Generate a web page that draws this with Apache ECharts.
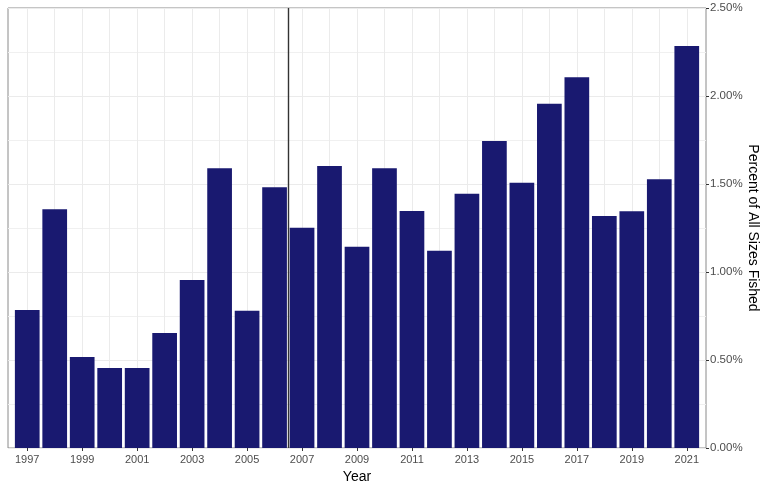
<!DOCTYPE html>
<html>
<head>
<meta charset="utf-8">
<script src="https://cdn.jsdelivr.net/npm/echarts@6/dist/echarts.min.js"></script>
<style>
html,body{margin:0;padding:0;background:#fff;}
#chart{width:771px;height:483px;}
</style>
</head>
<body>
<div id="chart"></div>
<script>
const years = [1997,1998,1999,2000,2001,2002,2003,2004,2005,2006,2007,2008,2009,2010,2011,2012,2013,2014,2015,2016,2017,2018,2019,2020,2021];
const percentFished = [0.784,1.356,0.517,0.455,0.455,0.653,0.955,1.589,0.780,1.481,1.251,1.602,1.144,1.589,1.347,1.121,1.445,1.744,1.507,1.956,2.106,1.318,1.345,1.527,2.284];
const xTickLabels = [1997,1999,2001,2003,2005,2007,2009,2011,2013,2015,2017,2019,2021];
const dividerYear = 2006.5;

const font = "Arial, 'Liberation Sans', sans-serif";
const chart = echarts.init(document.getElementById('chart'), null, {renderer:'canvas'});
const xMin = 1996.3, xMax = 2021.7;

chart.setOption({
  animation:false,
  backgroundColor:'#ffffff',
  grid:{left:8,right:65,top:8,bottom:35,outerBoundsMode:'none',containLabel:false,show:true,borderColor:'#8a8a8a',borderWidth:1,backgroundColor:'transparent'},
  xAxis:[{
    type:'value',min:xMin,max:xMax,
    axisLine:{show:false},
    axisTick:{show:false,customValues:years},
    axisLabel:{show:false},
    splitLine:{show:true,lineStyle:{color:'#ebebeb',width:1}}
  },{
    type:'value',min:xMin,max:xMax,position:'bottom',
    name:'Year',nameLocation:'middle',nameGap:18,
    nameTextStyle:{color:'#000',fontSize:14,fontFamily:font},
    axisLine:{show:false},
    axisTick:{show:true,length:3,customValues:xTickLabels,lineStyle:{color:'#333'}},
    axisLabel:{show:true,customValues:xTickLabels,margin:6,color:'#4d4d4d',fontSize:11,fontFamily:font,formatter:v=>String(v)},
    splitLine:{show:false}
  }],
  yAxis:{
    type:'value',min:0,max:2.5,interval:0.5,position:'right',
    name:'Percent of All Sizes Fished',nameLocation:'middle',nameRotate:-90,nameGap:40,nameMoveOverlap:false,
    nameTextStyle:{color:'#000',fontSize:14,fontFamily:font},
    axisLine:{show:false},
    axisTick:{show:true,length:3,lineStyle:{color:'#333'}},
    axisLabel:{margin:4,color:'#4d4d4d',fontSize:11.5,fontFamily:font,formatter:v=>v.toFixed(2)+'%'},
    splitLine:{show:true,lineStyle:{color:'#ebebeb',width:1}},
    minorTick:{show:false,splitNumber:2},
    minorSplitLine:{show:true,lineStyle:{color:'#f0f0f0',width:1}}
  },
  series:[{
    type:'bar',xAxisIndex:0,
    data:years.map((y,i)=>[y,percentFished[i]]),
    barWidth:24.7,
    itemStyle:{color:'#191970'},
    markLine:{
      silent:true,symbol:['none','none'],label:{show:false},
      lineStyle:{color:'#333333',width:1.4,type:'solid'},
      data:[{xAxis:dividerYear}]
    }
  }]
});
</script>
</body>
</html>
